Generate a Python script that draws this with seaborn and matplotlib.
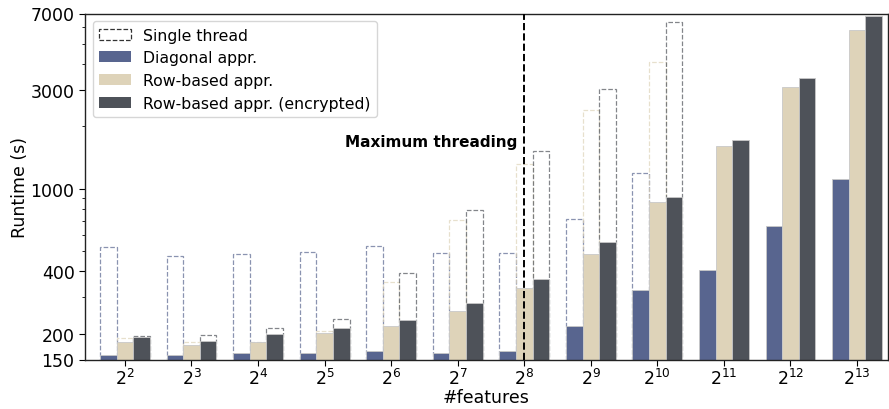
import numpy as np
import pandas as pd
import matplotlib
matplotlib.use("Agg")
import matplotlib.pyplot as plt
import seaborn as sns
from matplotlib.patches import Patch
from matplotlib.ticker import NullFormatter, FixedLocator, FixedFormatter

# ---------------- data ----------------
exponents = [2, 3, 4, 5, 6, 7, 8, 9, 10, 11, 12, 13]
tick_labels = [f"$2^{{{e}}}$" for e in exponents]
methods = ["Diagonal appr.", "Row-based appr.", "Row-based appr. (encrypted)"]

diag = [158, 158, 161, 162, 164, 161, 165, 218, 323, 404, 659, 1110]
row = [182, 177, 182, 202, 218, 256, 331, 486, 860, 1607, 3085, 5809]
enc = [192, 184, 200, 213, 233, 281, 366, 551, 915, 1723, 3408, 6810]

nan = np.nan
diag_single = [525, 472, 483, 494, 529, 488, 491, 712, 1195, nan, nan, nan]
row_single = [191, 182, 183, 205, 356, 709, 1316, 2405, 4099, nan, nan, nan]
enc_single = [194, 197, 214, 234, 393, 792, 1525, 3027, 6348, nan, nan, nan]

y_ticks = [150, 200, 400, 1000, 3000, 7000]
max_thread_idx = 6
max_thread_y = 1690

colors = ["#58658F", "#DED3B9", "#4E5259"]

# ---------------- frames ----------------
def long_frame(series_list):
    rows = []
    for m, vals in zip(methods, series_list):
        for lab, v in zip(tick_labels, vals):
            if not np.isnan(v):
                rows.append({"features": lab, "runtime": v, "method": m})
    return pd.DataFrame(rows)

df_multi = long_frame([diag, row, enc])
df_single = long_frame([diag_single, row_single, enc_single])

# ---------------- plot ----------------
plt.rcParams["font.family"] = ["DejaVu Sans"]
fig, ax = plt.subplots(figsize=(8.89, 4.10), dpi=100)
fig.subplots_adjust(left=85 / 889, right=888 / 889, top=1 - 14.5 / 410, bottom=1 - 360.5 / 410)

palette = dict(zip(methods, colors))

sns.barplot(data=df_single, x="features", y="runtime", hue="method",
            order=tick_labels, hue_order=methods, palette=palette,
            width=0.75, errorbar=None, fill=False, linestyle="--",
            linewidth=0.9, alpha=0.7, legend=False, ax=ax, zorder=1)

sns.barplot(data=df_multi, x="features", y="runtime", hue="method",
            order=tick_labels, hue_order=methods, palette=palette,
            width=0.75, errorbar=None, edgecolor="#c8c8c8", linewidth=0.6,
            saturation=1, legend=False, ax=ax, zorder=2)

ax.set_yscale("log")
ax.set_ylim(150, 7000)
ax.set_xlim(-0.6, 11.465)
ax.yaxis.set_major_locator(FixedLocator(y_ticks))
ax.yaxis.set_major_formatter(FixedFormatter([str(t) for t in y_ticks]))
ax.yaxis.set_minor_formatter(NullFormatter())

ax.axvline(max_thread_idx, color="black", linestyle="--", linewidth=1.4, zorder=3)
ax.text(max_thread_idx - 0.1, max_thread_y, "Maximum threading",
        ha="right", va="center", fontsize=11, fontweight="bold")

ax.set_xlabel("#features", fontsize=12.5, labelpad=0)
ax.set_ylabel("Runtime (s)", fontsize=12.5, labelpad=1)
ax.tick_params(axis="both", which="major", labelsize=12.5, length=4)
ax.tick_params(axis="x", which="major", pad=2)
ax.tick_params(axis="y", which="minor", length=2)

for sp in ax.spines.values():
    sp.set_color("#222222")
    sp.set_linewidth(1.0)

handles = [
    Patch(facecolor="none", edgecolor="#333333", linestyle="--", linewidth=0.9, label="Single thread"),
    Patch(facecolor=colors[0], label=methods[0]),
    Patch(facecolor=colors[1], label=methods[1]),
    Patch(facecolor=colors[2], label=methods[2]),
]
ax.legend(handles=handles, loc="upper left", fontsize=11.3, frameon=True,
          borderaxespad=0.5, handlelength=2.0)

fig.savefig("out.png", dpi=100)
